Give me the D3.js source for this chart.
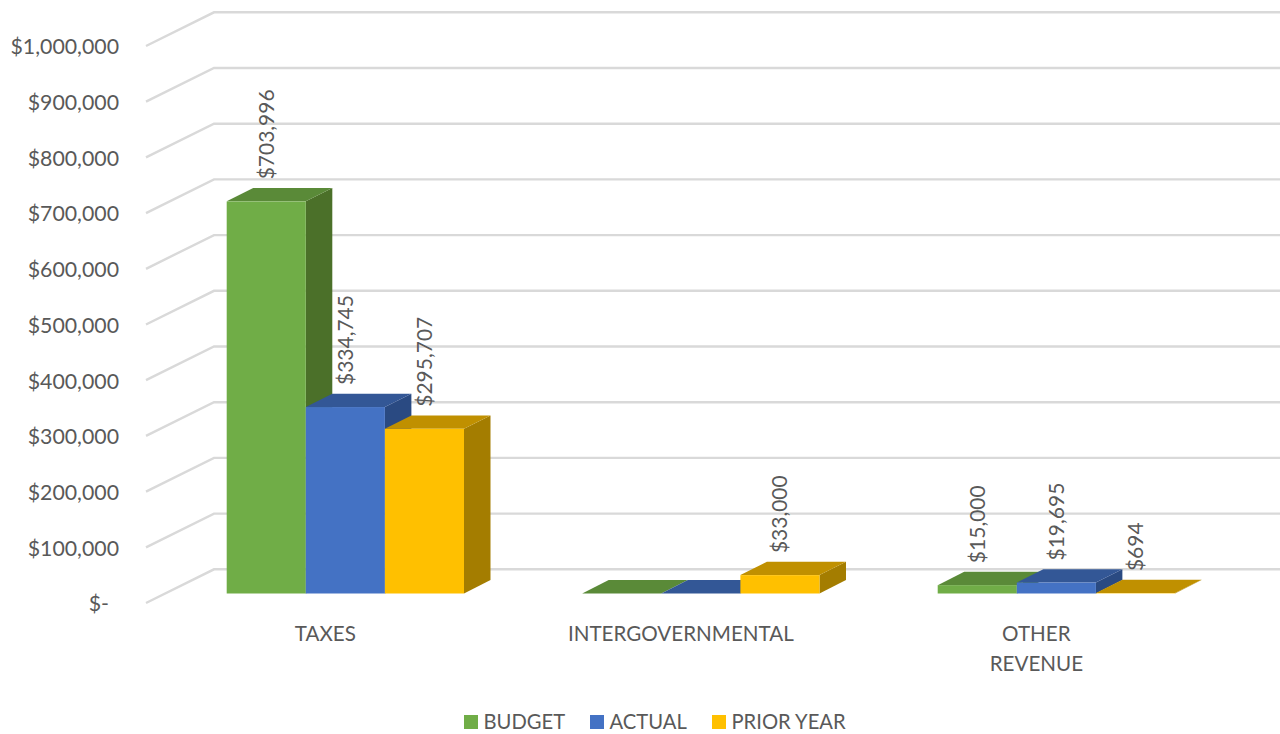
<!DOCTYPE html>
<html>
<head>
<meta charset="utf-8">
<script src="https://cdn.jsdelivr.net/npm/d3@7/dist/d3.min.js"></script>
<style>
  html, body { margin: 0; padding: 0; background: #fff; }
  svg { display: block; font-family: Lato, "Open Sans", sans-serif; }
  text { fill: #595959; }
</style>
</head>
<body>
<svg id="chart" width="1280" height="734"></svg>
<script>
// Revenue comparison, drawn as a clustered 3D column chart
const categories = ["TAXES", "INTERGOVERNMENTAL", "OTHER REVENUE"];
const seriesNames = ["BUDGET", "ACTUAL", "PRIOR YEAR"];
const budget = [703996, 0, 15000];
const actual = [334745, 0, 19695];
const priorYear = [295707, 33000, 694];
const axisTicks = [0, 100000, 200000, 300000, 400000, 500000, 600000, 700000, 800000, 900000, 1000000];
const frontColors = ["#70ad47", "#4472c4", "#ffc000"];
const topColors = ["#5a8a38", "#335796", "#c09000"];
const sideColors = ["#4b7029", "#2a4a82", "#a47d00"];

const seriesValues = [budget, actual, priorYear];
const axisFontSize = 21.3;
const valueFontSize = 21;
const categoryFontSize = 20.6;
const legendFontSize = 20.2;
const depth = { x: 26.5, y: -13.4 };
const wall = { left: 146, back: 214, right: 1280, frontDrop: 9.5, backRise: 24.2 };

const svg = d3.select("#chart");

const y = d3.scaleLinear().domain([0, 1000000]).range([593.5, 36.5]);
const xGroup = d3.scaleBand().domain(categories).range([226.7, 1175]).paddingInner(0.3325);
const xBar = d3.scaleBand().domain(seriesNames).range([0, xGroup.bandwidth()]);

// Gridlines run along the side wall, then across the back wall
svg.append("g").selectAll("polyline").data(axisTicks).join("polyline")
  .attr("fill", "none")
  .attr("stroke", "#d9d9d9")
  .attr("stroke-width", 2.4)
  .attr("points", d => [
    [wall.left, y(d) + wall.frontDrop],
    [wall.back, y(d) - wall.backRise],
    [wall.right, y(d) - wall.backRise]
  ].join(" "));

// Value axis, aligned with the front ends of the gridlines
const axis = d3.axisLeft(y)
  .tickValues(axisTicks)
  .tickSize(0)
  .tickPadding(0)
  .tickFormat(d => d === 0 ? "$-" : d3.format("$,")(d));
const axisG = svg.append("g").attr("transform", `translate(119,${wall.frontDrop + 1})`).call(axis);
axisG.select(".domain").remove();
axisG.selectAll("text")
  .attr("font-size", axisFontSize)
  .attr("font-family", "Lato, 'Open Sans', sans-serif")
  .attr("fill", "#595959")
  .attr("dx", d => d === 0 ? -10 : 0);

const poly = pts => pts.map(p => p.join(",")).join(" ");

// Columns: groups left to right, series back to front within each group
const bars = svg.append("g");
categories.forEach((cat, c) => {
  seriesNames.forEach((name, s) => {
    const v = seriesValues[s][c];
    const x0 = xGroup(cat) + xBar(name);
    const x1 = x0 + xBar.bandwidth();
    const yTop = y(v);
    const yBase = y(0);
    const g = bars.append("g");
    g.append("polygon").attr("fill", sideColors[s]).attr("points", poly([
      [x1, yBase], [x1 + depth.x, yBase + depth.y], [x1 + depth.x, yTop + depth.y], [x1, yTop]
    ]));
    g.append("polygon").attr("fill", topColors[s]).attr("points", poly([
      [x0, yTop], [x0 + depth.x, yTop + depth.y], [x1 + depth.x, yTop + depth.y], [x1, yTop]
    ]));
    g.append("rect").attr("fill", frontColors[s])
      .attr("x", x0).attr("y", yTop)
      .attr("width", xBar.bandwidth()).attr("height", yBase - yTop);
  });
});

// Vertical value labels above each non-zero column
const labels = svg.append("g");
categories.forEach((cat, c) => {
  seriesNames.forEach((name, s) => {
    const v = seriesValues[s][c];
    if (!v) return;
    const cx = xGroup(cat) + xBar(name) + xBar.bandwidth() / 2;
    labels.append("text")
      .attr("transform", `translate(${cx + 7.5},${y(v) - 22}) rotate(-90)`)
      .attr("font-size", valueFontSize)
      .text(d3.format("$,")(v));
  });
});

// Category labels, with the last one broken onto two lines
const catLines = { "OTHER REVENUE": ["OTHER", "REVENUE"] };
categories.forEach(cat => {
  const t = svg.append("text")
    .attr("text-anchor", "middle")
    .attr("font-size", categoryFontSize)
    .attr("y", 641);
  const cx = xGroup(cat) + xGroup.bandwidth() / 2 - 20;
  (catLines[cat] || [cat]).forEach((line, i) => {
    t.append("tspan").attr("x", cx).attr("dy", i ? 30 : 0).text(line);
  });
});

// Legend
const legendX = [464, 590, 712];
const legend = svg.append("g");
seriesNames.forEach((name, s) => {
  legend.append("rect").attr("x", legendX[s]).attr("y", 715)
    .attr("width", 14).attr("height", 14).attr("fill", frontColors[s]);
  legend.append("text").attr("x", legendX[s] + 19.5).attr("y", 729)
    .attr("font-size", legendFontSize).text(name);
});
</script>
</body>
</html>
